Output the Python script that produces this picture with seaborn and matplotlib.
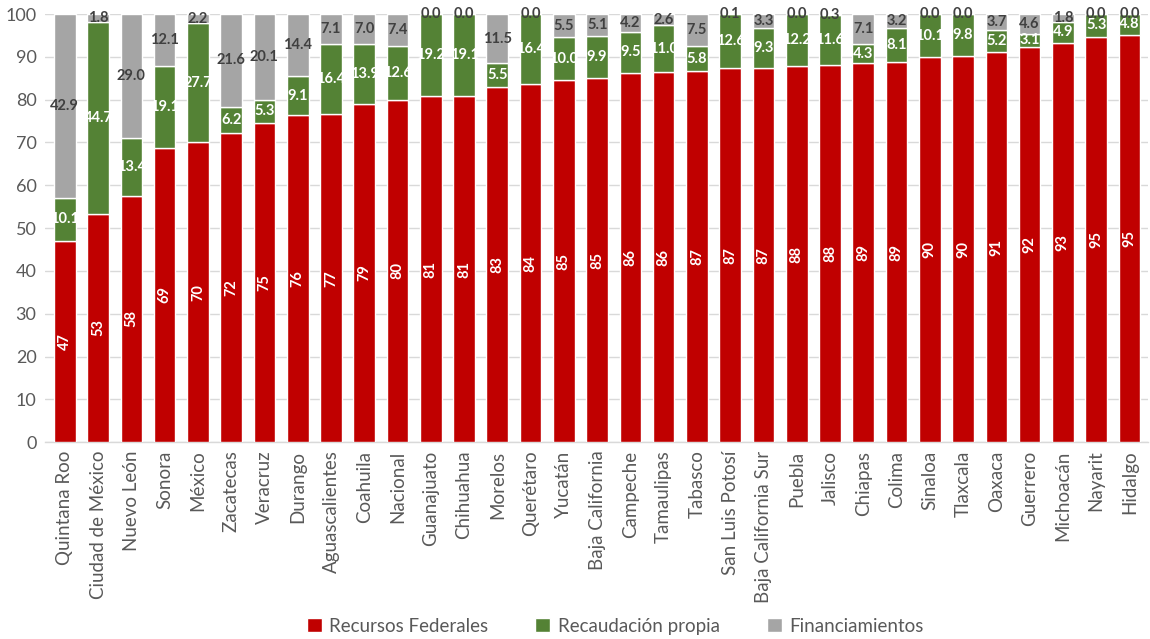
import numpy as np
import pandas as pd
import matplotlib
matplotlib.use("Agg")
import matplotlib.pyplot as plt
import seaborn as sns
from matplotlib.patches import Patch

states = ["Quintana Roo", "Ciudad de México", "Nuevo León", "Sonora", "México", "Zacatecas",
          "Veracruz", "Durango", "Aguascalientes", "Coahuila", "Nacional", "Guanajuato",
          "Chihuahua", "Morelos", "Querétaro", "Yucatán", "Baja California", "Campeche",
          "Tamaulipas", "Tabasco", "San Luis Potosí", "Baja California Sur", "Puebla",
          "Jalisco", "Chiapas", "Colima", "Sinaloa", "Tlaxcala", "Oaxaca", "Guerrero",
          "Michoacán", "Nayarit", "Hidalgo"]
federales = [47.0, 53.4, 57.6, 68.8, 70.1, 72.2, 74.6, 76.4, 76.6, 79.1, 80.0, 80.8,
             80.9, 83.0, 83.6, 84.6, 85.0, 86.3, 86.4, 86.7, 87.3, 87.4, 87.8,
             88.1, 88.6, 88.7, 89.9, 90.2, 91.1, 92.3, 93.3, 94.7, 95.2]
propia = [10.1, 44.7, 13.4, 19.1, 27.7, 6.2, 5.3, 9.1, 16.4, 13.9, 12.6, 19.2,
          19.1, 5.5, 16.4, 10.0, 9.9, 9.5, 11.0, 5.8, 12.6, 9.3, 12.2,
          11.6, 4.3, 8.1, 10.1, 9.8, 5.2, 3.1, 4.9, 5.3, 4.8]
financ = [42.9, 1.8, 29.0, 12.1, 2.2, 21.6, 20.1, 14.4, 7.1, 7.0, 7.4, 0.0,
          0.0, 11.5, 0.0, 5.5, 5.1, 4.2, 2.6, 7.5, 0.1, 3.3, 0.0,
          0.3, 7.1, 3.2, 0.0, 0.0, 3.7, 4.6, 1.8, 0.0, 0.0]
series_names = ["Recursos Federales", "Recaudación propia", "Financiamientos"]
colors = ["#C00000", "#548235", "#A5A5A5"]

sns.set_theme(style="white")
plt.rcParams['font.family'] = ['Lato', 'DejaVu Sans']

df = pd.DataFrame({"estado": states, "fed": federales, "rec": propia, "fin": financ})
fed = np.array(federales)
rec = np.array(propia)

fig = plt.figure(figsize=(11.5, 6.39), dpi=100)
ax = fig.add_axes([0.039, 0.308, 0.959, 0.67])

sns.barplot(data=df, x="estado", y="fed", color=colors[0], width=0.65, ax=ax,
            saturation=1, zorder=3)
sns.barplot(data=df, x="estado", y="rec", color=colors[1], width=0.65, ax=ax,
            saturation=1, bottom=fed, zorder=3)
sns.barplot(data=df, x="estado", y="fin", color=colors[2], width=0.65, ax=ax,
            saturation=1, bottom=fed + rec, zorder=3)

conts = ax.containers
ax.bar_label(conts[0], labels=[f"{round(v)}" for v in federales], label_type="center",
             rotation=90, color="white", fontweight="bold", fontsize=10.5)
ax.bar_label(conts[1], labels=[f"{v:.1f}" for v in propia], label_type="center",
             color="white", fontweight="bold", fontsize=10.5)
ax.bar_label(conts[2], labels=[f"{v:.1f}" for v in financ], label_type="center",
             color="#404040", fontweight="bold", fontsize=10.5)

ax.set_ylim(0, 100)
ax.set_xlim(-0.6, len(states) - 0.45)
ax.set_yticks(range(0, 101, 10))
ax.yaxis.grid(True, color="#D9D9D9", linewidth=1, zorder=0)
ax.set_axisbelow(True)
for s in ["top", "right", "left"]:
    ax.spines[s].set_visible(False)
ax.spines["bottom"].set_color("#D9D9D9")
ax.spines["bottom"].set_linewidth(1)
ax.set_xlabel("")
ax.set_ylabel("")
ax.tick_params(axis="x", rotation=90, labelsize=13.5, colors="#595959", length=0, pad=6)
ax.tick_params(axis="y", labelsize=13, colors="#595959", length=0, pad=6)

handles = [Patch(facecolor=c, label=n) for c, n in zip(colors, series_names)]
fig.legend(handles=handles, loc="center", bbox_to_anchor=(0.535, 0.02), ncol=3,
           frameon=False, fontsize=13.5, handlelength=0.8, handleheight=0.8,
           handletextpad=0.4, columnspacing=2.5, labelcolor="#595959")

fig.savefig("out.png", dpi=100)
